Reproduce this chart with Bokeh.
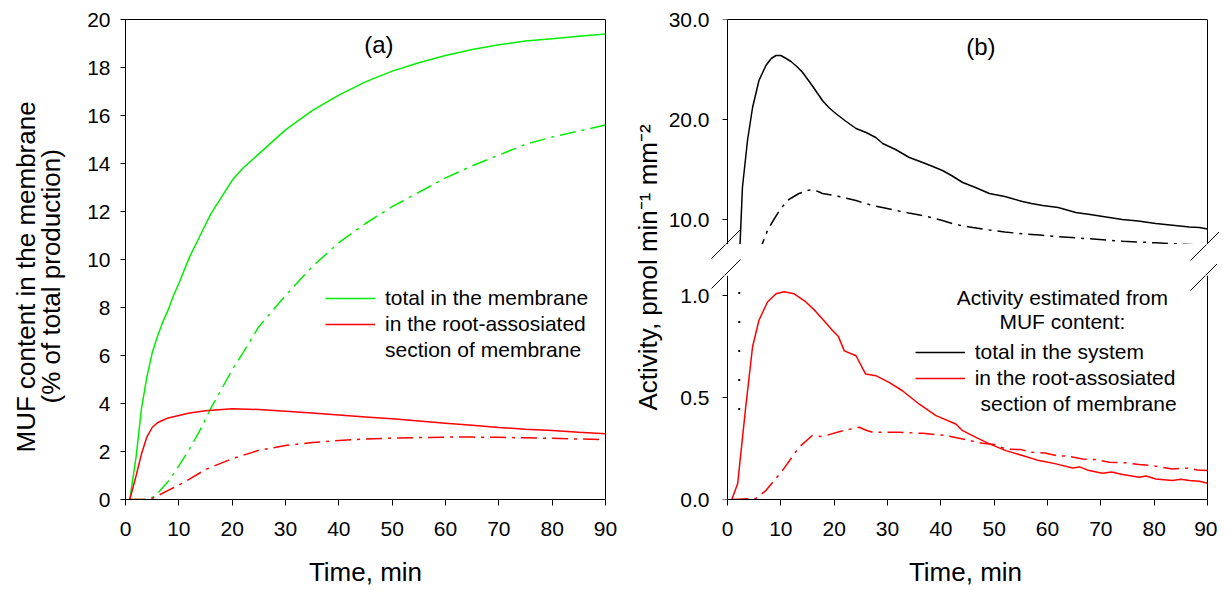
import math
from bokeh.plotting import figure
from bokeh.models import (ColumnDataSource, FixedTicker, PrintfTickFormatter, LinearAxis,
                          Label, Legend, LegendItem, Arrow, Range1d)
from bokeh.layouts import row, column
from bokeh.embed import file_html
from bokeh.resources import INLINE

FONT = "Liberation Sans"
GREEN = "#00ee00"
RED = "#ff0000"

# ---------------- Panel (a): MUF content in the membrane (% of total production)
a_total_t = [0.8, 2, 3, 4, 5, 6, 7, 8, 9, 10, 12, 14, 16, 18, 20, 22, 25, 30, 35, 40, 45, 50,
             55, 60, 65, 70, 75, 80, 85, 90]
a_total_v = [0, 1.8, 3.8, 5.1, 6.1, 6.8, 7.4, 7.9, 8.5, 9.0, 10.1, 11.0, 11.9, 12.6, 13.3, 13.8,
             14.4, 15.4, 16.2, 16.85, 17.4, 17.85, 18.2, 18.5, 18.75, 18.95, 19.1, 19.2, 19.3, 19.4]
a_total2_t = [0.8, 4.5, 6, 8, 10, 12, 14, 16, 18, 20, 22, 25, 30, 35, 40, 45, 50, 55, 60, 65,
              70, 75, 80, 85, 90]
a_total2_v = [0, 0, 0.25, 0.75, 1.4, 2.1, 2.9, 3.8, 4.6, 5.4, 6.1, 7.2, 8.5, 9.7, 10.7, 11.5,
              12.2, 12.8, 13.4, 13.9, 14.35, 14.8, 15.1, 15.35, 15.6]
a_root_t = [0.8, 2, 3, 4, 5, 6, 7, 8, 10, 12, 15, 20, 25, 30, 35, 40, 45, 50, 55, 60, 65, 70,
            75, 80, 85, 90]
a_root_v = [0, 1.0, 1.9, 2.6, 3.0, 3.2, 3.3, 3.4, 3.5, 3.6, 3.7, 3.78, 3.75, 3.68, 3.6, 3.52,
            3.44, 3.36, 3.27, 3.18, 3.09, 3.0, 2.93, 2.87, 2.8, 2.74]
a_root2_t = [0.8, 4.5, 6, 8, 10, 12, 15, 20, 25, 30, 35, 40, 45, 50, 55, 60, 65, 70, 75, 80,
             85, 90]
a_root2_v = [0, 0, 0.15, 0.38, 0.6, 0.85, 1.25, 1.7, 2.05, 2.25, 2.37, 2.46, 2.52, 2.56, 2.58,
             2.6, 2.6, 2.59, 2.57, 2.55, 2.52, 2.5]

a_xticks = [0, 10, 20, 30, 40, 50, 60, 70, 80, 90]
a_yticks = [0, 2, 4, 6, 8, 10, 12, 14, 16, 18, 20]

# ---------------- Panel (b): Activity, pmol min-1 mm-2
b_sys_t = [2.2, 2.35, 2.8, 3.75, 4.7, 5.9, 7.2, 8.2, 9.1, 10.0, 11.0, 11.9, 13.0, 14.1, 16.0,
           17.8, 19.0, 20.3, 22.0, 24.1, 26.0, 27.8, 29.1, 31.5, 34.1, 36.6, 38.5, 40.3, 42.0,
           44.1, 46.5, 49.1, 52.0, 55.3, 57.0, 59.1, 62.0, 65.3, 68.0, 71.6, 74.0, 77.0, 80.3,
           83.0, 86.6, 88.5, 90.0]
b_sys_v = [0.44, 7.5, 13.2, 17.9, 21.2, 23.9, 25.4, 26.1, 26.4, 26.4, 26.1, 25.8, 25.3, 24.7,
           23.3, 21.9, 21.2, 20.6, 19.9, 19.1, 18.7, 18.2, 17.6, 17.0, 16.2, 15.7, 15.3, 14.9,
           14.4, 13.7, 13.2, 12.6, 12.3, 11.8, 11.6, 11.4, 11.2, 10.7, 10.5, 10.2, 10.0, 9.85,
           9.6, 9.45, 9.25, 9.2, 9.05]
b_sys2_t = [6.0, 6.4, 7.5, 8.75, 10.0, 11.5, 13.4, 15.0, 15.9, 17.0, 17.8, 19.5, 20.9, 22.5,
            24.1, 25.5, 27.2, 29.5, 31.6, 34.0, 36.6, 38.5, 40.3, 42.8, 46.0, 49.1, 52.0, 55.3,
            58.5, 61.6, 64.5, 67.8, 71.0, 74.1, 77.0, 80.3, 83.5, 86.5, 89.5]
b_sys2_v = [6.5, 7.4, 8.9, 10.05, 11.1, 12.0, 12.6, 12.9, 13.0, 12.8, 12.6, 12.45, 12.3, 12.1,
            11.9, 11.65, 11.4, 11.15, 10.9, 10.65, 10.4, 10.15, 9.9, 9.5, 9.2, 8.95, 8.75, 8.57,
            8.45, 8.3, 8.2, 8.07, 7.95, 7.83, 7.75, 7.67, 7.58, 7.5, 7.42]
b_root_t = [0.8, 1.9, 3.4, 4.7, 5.9, 7.5, 9.1, 10.6, 12.5, 14.7, 16.5, 17.8, 19.7, 20.8, 21.9,
            24.1, 25.9, 27.8, 30.3, 32.8, 35.9, 39.1, 42.8, 44.1, 46.6, 49.1, 52.2, 55.3, 58.4,
            61.6, 64.7, 66.0, 67.8, 70.3, 72.0, 74.1, 77.2, 78.5, 80.3, 83.4, 85.0, 86.6, 88.5,
            90.0]
b_root_v = [0, 0.077, 0.45, 0.75, 0.88, 0.97, 1.01, 1.02, 1.01, 0.97, 0.925, 0.886, 0.83, 0.8,
            0.73, 0.706, 0.616, 0.608, 0.575, 0.534, 0.469, 0.412, 0.371, 0.338, 0.305, 0.273,
            0.24, 0.216, 0.191, 0.175, 0.155, 0.16, 0.142, 0.129, 0.135, 0.123, 0.109, 0.115,
            0.101, 0.093, 0.1, 0.093, 0.09, 0.08]
b_root2_t = [0.9, 5.3, 7.2, 10.3, 13.4, 15.9, 17.8, 20.9, 24.7, 26.0, 27.2, 32.2, 36.6, 40.9,
             44.1, 47.8, 50.0, 52.2, 55.0, 57.2, 59.5, 61.6, 64.0, 66.6, 69.0, 71.6, 74.5, 77.2,
             80.0, 83.4, 86.5, 88.0, 90.0]
b_root2_v = [0, 0.005, 0.044, 0.142, 0.256, 0.314, 0.309, 0.333, 0.355, 0.34, 0.33, 0.33,
             0.325, 0.314, 0.297, 0.276, 0.27, 0.248, 0.245, 0.232, 0.228, 0.216, 0.212, 0.199,
             0.196, 0.183, 0.18, 0.172, 0.165, 0.15, 0.155, 0.145, 0.142]

b_xticks = [0, 10, 20, 30, 40, 50, 60, 70, 80, 90]
b_upper_ticks = [10, 20, 30]
b_lower_ticks = [0, 0.5, 1.0]

DASHDOT = "16 6 3 6"
TICK_SIZE = "21px"
TITLE_SIZE = "26px"
LEG_SIZE = "21px"
TOP = 19      # frame top (px)
BOTTOM = 92   # space under the frames for tick labels and titles
H = TOP + 480 + BOTTOM


def style_axis(ax, ticks, fmt=None, standoff=8, tick_out=6):
    ax.ticker = FixedTicker(ticks=ticks)
    if fmt:
        ax.formatter = PrintfTickFormatter(format=fmt)
    ax.major_label_text_font = FONT
    ax.major_label_text_font_size = TICK_SIZE
    ax.major_label_text_color = "black"
    ax.major_tick_in = 0
    ax.major_tick_out = tick_out
    ax.major_tick_line_color = "black"
    ax.minor_tick_line_color = None
    ax.axis_line_color = "black"
    ax.major_label_standoff = standoff
    ax.axis_label_text_font = FONT
    ax.axis_label_text_font_size = TITLE_SIZE
    ax.axis_label_text_font_style = "normal"
    ax.axis_label_text_color = "black"


def plain_axis(fig, place, ticks=(), fixed=None, bounds="auto", tick_out=0):
    # axis line (+ ticks) only, no tick labels
    ax = LinearAxis(ticker=FixedTicker(ticks=list(ticks)), major_tick_out=tick_out,
                    major_tick_in=0, major_label_standoff=0, major_label_text_color=None,
                    major_tick_line_color="black", minor_tick_line_color=None,
                    axis_line_color="black", bounds=bounds)
    if fixed is not None:
        ax.fixed_location = fixed
    fig.add_layout(ax, place)


def rotated_label(fig, x, y, text):
    # canvas units (y from top); anchor = start (bottom) of the upward-reading text
    fig.add_layout(Label(x=x, y=y, x_units="canvas", y_units="canvas", text=text,
                         angle=math.pi / 2, text_align="left", text_baseline="middle",
                         text_font=FONT, text_font_size=TITLE_SIZE, text_color="black"))


def blank_fig(width, height):
    f = figure(width=width, height=height, min_border=0, x_range=Range1d(0, 1),
               y_range=Range1d(0, 1), x_axis_location=None, y_axis_location=None,
               output_backend="svg", toolbar_location=None)
    f.grid.visible = False
    f.outline_line_color = None
    return f


def break_mark(fig, x0, y0):
    fig.add_layout(Arrow(end=None, x_start=x0, y_start=y0, x_end=x0 + 31, y_end=y0 - 31,
                         start_units="canvas", end_units="canvas", line_color="black",
                         line_width=1))


# ---------------- y-title holder for panel (a)
plab_a = blank_fig(75, H)
rotated_label(plab_a, 25, 452, "MUF content in the membrane")
rotated_label(plab_a, 50, 403, "(% of total production)")

# ---------------- Figure (a)
pa = figure(frame_width=480, frame_height=480, min_border_left=50, min_border_right=15,
            min_border_top=TOP, min_border_bottom=BOTTOM, x_range=Range1d(0, 90),
            y_range=Range1d(0, 20), output_backend="svg", toolbar_location=None)
pa.grid.visible = False
pa.outline_line_color = "black"
pa.outline_line_alpha = 1
style_axis(pa.xaxis[0], a_xticks, standoff=16)
style_axis(pa.yaxis[0], a_yticks, standoff=10, tick_out=5)
pa.xaxis[0].axis_label = "Time, min"
pa.xaxis[0].axis_label_standoff = 18

src_a1 = ColumnDataSource(dict(t=a_total_t, v=a_total_v))
src_a2 = ColumnDataSource(dict(t=a_total2_t, v=a_total2_v))
src_a3 = ColumnDataSource(dict(t=a_root_t, v=a_root_v))
src_a4 = ColumnDataSource(dict(t=a_root2_t, v=a_root2_v))
r_a1 = pa.line("t", "v", source=src_a1, line_color=GREEN, line_width=1.5)
pa.line("t", "v", source=src_a2, line_color=GREEN, line_width=1.5, line_dash=DASHDOT)
r_a3 = pa.line("t", "v", source=src_a3, line_color=RED, line_width=1.5)
pa.line("t", "v", source=src_a4, line_color=RED, line_width=1.5, line_dash=DASHDOT)
r_a_blank = pa.line("t", "v", source=src_a3, line_alpha=0)

leg_a = Legend(items=[LegendItem(label="total in the membrane", renderers=[r_a1]),
                      LegendItem(label="in the root-assosiated", renderers=[r_a3]),
                      LegendItem(label="section of membrane", renderers=[r_a_blank])],
               location=(200, 136), padding=0, margin=0, spacing=0, glyph_width=50,
               glyph_height=26, label_height=26, label_standoff=10, border_line_color=None,
               background_fill_alpha=0, label_text_font=FONT, label_text_font_size=LEG_SIZE,
               label_text_color="black")
pa.add_layout(leg_a)
pa.add_layout(Label(x=47.5, y=18.95, text="(a)", text_align="center", text_baseline="middle",
                    text_font=FONT, text_font_size="24px", text_color="black"))

# ---------------- y-title holder for panel (b)
plab_b = blank_fig(45, H)
rotated_label(plab_b, 27, 410, "Activity, pmol min\u207b\u00b9 mm\u207b\u00b2")

# ---------------- Figure (b) upper section (frame widened so break marks are inside)
pu = figure(frame_width=508, frame_height=225, min_border_left=44, min_border_right=0,
            min_border_top=TOP, min_border_bottom=0, x_range=Range1d(-3, 92.25),
            y_range=Range1d(7.5, 30), x_axis_location=None, output_backend="svg",
            toolbar_location=None)
pu.grid.visible = False
pu.outline_line_color = None
style_axis(pu.yaxis[0], b_upper_ticks, fmt="%.1f", standoff=2, tick_out=0)
pu.yaxis[0].axis_line_color = None
pu.yaxis[0].major_tick_line_color = None
plain_axis(pu, "left", ticks=b_upper_ticks, fixed=0, tick_out=5)
plain_axis(pu, "above", bounds=(0, 90))
plain_axis(pu, "right", fixed=90)
src_b1 = ColumnDataSource(dict(t=b_sys_t, v=b_sys_v))
src_b2 = ColumnDataSource(dict(t=b_sys2_t, v=b_sys2_v))
pu.line("t", "v", source=src_b1, line_color="black", line_width=1.5)
pu.line("t", "v", source=src_b2, line_color="black", line_width=1.5, line_dash=DASHDOT)
pu.add_layout(Label(x=47.5, y=27.3, text="(b)", text_align="center", text_baseline="middle",
                    text_font=FONT, text_font_size="24px", text_color="black"))
break_mark(pu, 44, 260)
break_mark(pu, 525, 260)

# ---------------- gap strip between the two sections (y 244..275)
pg = blank_fig(552, 31)
for xs in (44, 525):
    break_mark(pg, xs, 16)
    break_mark(pg, xs, 46)

# ---------------- Figure (b) lower section
pl = figure(frame_width=508, frame_height=224, min_border_left=44, min_border_right=0,
            min_border_top=0, min_border_bottom=BOTTOM, x_range=Range1d(-3, 92.25),
            y_range=Range1d(0, 1.1), output_backend="svg", toolbar_location=None)
pl.grid.visible = False
pl.outline_line_color = None
style_axis(pl.xaxis[0], b_xticks, standoff=16)
pl.xaxis[0].bounds = (0, 90)
pl.xaxis[0].axis_label = "Time, min"
pl.xaxis[0].axis_label_standoff = 18
style_axis(pl.yaxis[0], b_lower_ticks, fmt="%.1f", standoff=2, tick_out=0)
pl.yaxis[0].axis_line_color = None
pl.yaxis[0].major_tick_line_color = None
plain_axis(pl, "left", ticks=b_lower_ticks, fixed=0, tick_out=5)
plain_axis(pl, "right", fixed=90)
src_b3 = ColumnDataSource(dict(t=b_root_t, v=b_root_v))
src_b4 = ColumnDataSource(dict(t=b_root2_t, v=b_root2_v))
r_b_sys = pl.line("t", "v", source=src_b1, line_color="black", line_width=1.5)
pl.line("t", "v", source=src_b1, line_color="black", line_width=2, line_dash="2 27")
r_b_sys.visible = False
r_b_root = pl.line("t", "v", source=src_b3, line_color=RED, line_width=1.5)
pl.line("t", "v", source=src_b4, line_color=RED, line_width=1.5, line_dash=DASHDOT)
r_b_blank = pl.line("t", "v", source=src_b3, line_alpha=0)
leg_b = Legend(items=[LegendItem(label="total in the system", renderers=[r_b_sys]),
                      LegendItem(label="in the root-assosiated", renderers=[r_b_root]),
                      LegendItem(label=" section of membrane", renderers=[r_b_blank])],
               location=(209, 82), padding=0, margin=0, spacing=0, glyph_width=50,
               glyph_height=26, label_height=26, label_standoff=10, border_line_color=None,
               background_fill_alpha=0, label_text_font=FONT, label_text_font_size=LEG_SIZE,
               label_text_color="black")
pl.add_layout(leg_b)
pl.add_layout(Label(x=62.8, y=0.99, text="Activity estimated from", text_align="center",
                    text_baseline="middle", text_font=FONT, text_font_size=LEG_SIZE,
                    text_color="black"))
pl.add_layout(Label(x=62.8, y=0.873, text="MUF content:", text_align="center",
                    text_baseline="middle", text_font=FONT, text_font_size=LEG_SIZE,
                    text_color="black"))
break_mark(pl, 44, 15)
break_mark(pl, 525, 15)

layout = row(plab_a, pa, plab_b, column(pu, pg, pl))
open("out.html", "w").write(file_html(layout, INLINE))
